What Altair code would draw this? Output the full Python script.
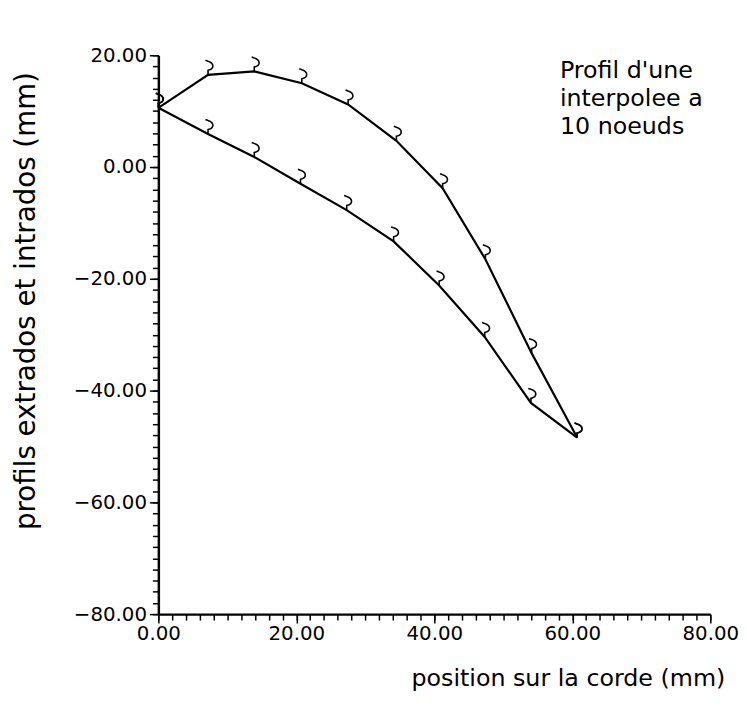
import altair as alt
import pandas as pd

# ---- data ----
x_extrados = [0.0, 7.2, 13.9, 20.8, 27.5, 34.5, 41.2, 47.4, 54.1, 60.7]
y_extrados = [10.6, 16.5, 17.1, 15.0, 11.2, 4.7, -3.8, -16.5, -33.3, -48.4]
x_intrados = [0.0, 7.2, 13.9, 20.6, 27.3, 34.1, 40.7, 47.3, 54.0, 60.7]
y_intrados = [10.6, 5.9, 1.8, -3.0, -7.7, -13.3, -21.2, -30.4, -42.2, -48.4]

note_lines = ["Profil d'une", "interpolee a", "10 noeuds"]
note_x = [58.2]
note_y = [15.9]

x_major = [0, 20, 40, 60, 80]
y_major = [-80, -60, -40, -20, 0, 20]
x_minor = list(range(0, 81, 2))
y_minor = list(range(-80, 21, 2))

x_title = "position sur la corde (mm)"
y_title = "profils extrados et intrados (mm)"

rows = []
for i, (xv, yv) in enumerate(zip(x_extrados, y_extrados)):
    rows.append({"x": xv, "y": yv, "serie": "extrados", "ordre": i})
for i, (xv, yv) in enumerate(zip(x_intrados, y_intrados)):
    rows.append({"x": xv, "y": yv, "serie": "intrados", "ordre": i})
df = pd.DataFrame(rows)
notes = pd.DataFrame({"x": note_x, "y": note_y, "t": ["\n".join(note_lines)]})

FONT = "DejaVu Sans"

x_scale = alt.Scale(domain=[0, 80], nice=False, zero=False)
y_scale = alt.Scale(domain=[-80, 20], nice=False, zero=False)

common = dict(
    domainColor="black", domainWidth=2.5, tickColor="black", tickWidth=1.5,
    grid=False, labelFont=FONT, labelFontSize=20, labelColor="black",
    labelFlush=False, labelOverlap=False,
)

x_axis_major = alt.Axis(
    orient="bottom", values=x_major, format=".2f", tickSize=9, labelPadding=1,
    title=x_title, titleFont=FONT, titleFontSize=24, titleFontWeight="normal",
    titleColor="black", titleX=414, titleY=72, titleAlign="center",
    titleBaseline="alphabetic", **common,
)
y_axis_major = alt.Axis(
    orient="left", values=y_major, format=".2f", tickSize=9, labelPadding=3,
    title=y_title, titleFont=FONT, titleFontSize=28, titleFontWeight="normal",
    titleColor="black", titleX=-119, titleY=248, titleAlign="center",
    titleAngle=270, titleBaseline="bottom", **common,
)
x_axis_minor = alt.Axis(
    orient="bottom", values=x_minor, labels=False, tickSize=6, title=None,
    domain=False, tickColor="black", tickWidth=1.5, grid=False,
)
y_axis_minor = alt.Axis(
    orient="left", values=y_minor, labels=False, tickSize=6, title=None,
    domain=False, tickColor="black", tickWidth=1.5, grid=False,
)

base = alt.Chart(df)

lines = base.mark_line(color="black", strokeWidth=2.2).encode(
    x=alt.X("x:Q", scale=x_scale, axis=x_axis_major),
    y=alt.Y("y:Q", scale=y_scale, axis=y_axis_major),
    detail="serie:N",
    order="ordre:Q",
)

hook = "M0,0L0,-0.35C0.5,-0.45,0.5,-0.9,0,-1.05L-0.2,-1.12"
marks = base.mark_point(
    shape=hook, size=680, filled=False, color="black", strokeWidth=1.6, opacity=1
).encode(
    x=alt.X("x:Q", scale=x_scale, axis=x_axis_minor),
    y=alt.Y("y:Q", scale=y_scale, axis=y_axis_minor),
)

text = alt.Chart(notes).mark_text(
    font=FONT, fontSize=24, align="left", baseline="alphabetic", color="black",
    lineBreak="\n", lineHeight=28,
).encode(
    x=alt.X("x:Q", scale=x_scale, axis=None),
    y=alt.Y("y:Q", scale=y_scale, axis=None),
    text="t:N",
)

chart = (
    alt.layer(lines, marks, text)
    .resolve_axis(x="independent", y="independent")
    .properties(
        width=558,
        height=565,
        padding={"left": 152, "top": 44, "right": 29, "bottom": 80},
        autosize=alt.AutoSizeParams(type="none"),
    )
    .configure(background="white")
    .configure_view(strokeWidth=0, stroke=None)
)

chart.save("out.html", embed_options={"renderer": "svg", "actions": False})
